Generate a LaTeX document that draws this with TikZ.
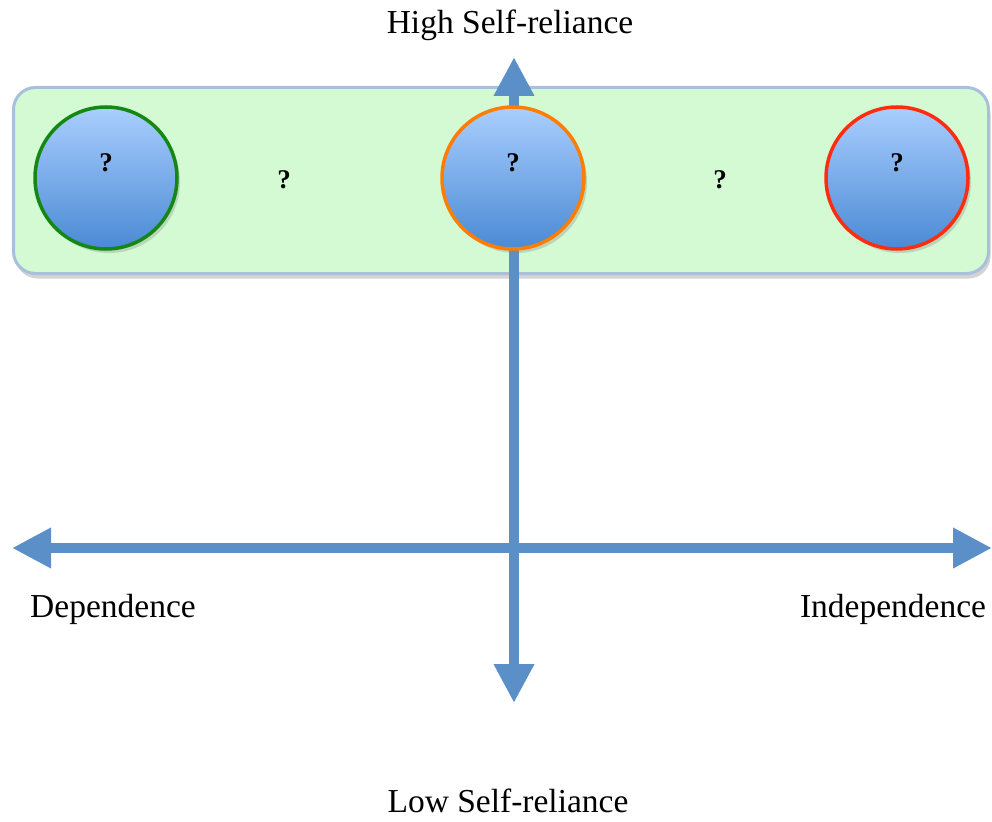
\documentclass[tikz,border=0pt]{standalone}
\usepackage{fontspec}
\setmainfont{Liberation Serif}
\usetikzlibrary{positioning, arrows.meta, shadows}

\definecolor{axisblue}{HTML}{5B8FC7}
\definecolor{bandgreen}{HTML}{D4FAD4}
\definecolor{bandedge}{HTML}{A8C0DC}
\definecolor{balltop}{HTML}{AACEFF}
\definecolor{ballbot}{HTML}{4A8AD4}

\tikzset{
    band/.style={draw=bandedge, line width=3pt, fill=bandgreen, rounded corners=22pt,
        minimum width=975pt, minimum height=186pt,
        drop shadow={shadow xshift=2pt, shadow yshift=-5pt, opacity=0.35}},
    ball/.style={circle, line width=3.5pt, minimum size=142pt, top color=balltop, bottom color=ballbot,
        drop shadow={shadow xshift=3pt, shadow yshift=-4pt, opacity=0.3}},
    qmark/.style={font=\bfseries\fontsize{27}{30}\selectfont},
    axislabel/.style={font=\fontsize{33.5}{38}\selectfont},
    axis/.style={draw=axisblue, line width=10pt, {Triangle[length=39pt, width=38pt, fill=axisblue]}-{Triangle[length=39pt, width=38pt, fill=axisblue]}}
}

\begin{document}
\begin{tikzpicture}[x=1pt, y=-1pt]
    \useasboundingbox (0,0) rectangle (992,821);

    \node[band] (band) at (501,180.5) {};

    \coordinate (top) at (514,57);
    \coordinate (bottom) at (514,703);
    \coordinate (left) at (12,548);
    \coordinate (right) at (992,548);

    \draw[axis] (bottom) -- (top);
    \draw[axis] (left) -- (right);

    \node[ball, draw={rgb,255:red,20;green,135;blue,20}] (low) at (106,178) {};
    \node[ball, draw={rgb,255:red,255;green,125;blue,0}] (mid) at (513,178) {};
    \node[ball, draw={rgb,255:red,255;green,45;blue,15}] (high) at (897,178) {};

    \node[qmark] (qlow) at ([yshift=15pt]low.center) {?};
    \node[qmark] (qmid) at ([yshift=15pt]mid.center) {?};
    \node[qmark] (qhigh) at ([yshift=15pt]high.center) {?};
    \node[qmark] (qa) at (284,180) {?};
    \node[qmark] (qb) at (720,180) {?};

    \node[axislabel] (hsr) at (510,25) {High Self-reliance};
    \node[axislabel] (lsr) at (508,801) {Low Self-reliance};
    \node[axislabel] (dep) at (113,609) {Dependence};
    \node[axislabel] (indep) at (893,609) {Independence};

\end{tikzpicture}
\end{document}
